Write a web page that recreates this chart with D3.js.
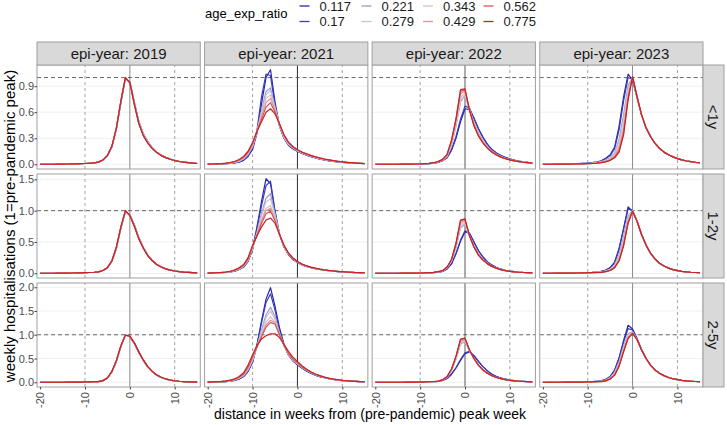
<!DOCTYPE html>
<html>
<head>
<meta charset="utf-8">
<script src="https://cdn.jsdelivr.net/npm/d3@7"></script>
<style>
body { margin: 0; background: #fff; }
svg { font-family: "Liberation Sans", Arial, sans-serif; }
</style>
</head>
<body>
<svg width="727" height="425"></svg>
<script>
// weeks relative to pre-pandemic peak
var weeks = [-20,-19,-18,-17,-16,-15,-14,-13,-12,-11,-10,-9,-8,-7,-6,-5,-4,-3,-2,-1,0,1,2,3,4,5,6,7,8,9,10,11,12,13,14,15];
var ratios = ["0.117","0.17","0.221","0.279","0.343","0.429","0.562","0.775"];
var years = ["2019","2021","2022","2023"];
var ages = ["<1y","1-2y","2-5y"];
var yTicks = [[0,0.3,0.6,0.9],[0,0.5,1,1.5],[0,0.5,1,1.5,2]];
var xTicks = [-20,-10,0,10];

// ---- epi-year 2019 ----
var lt1_2019_a = [0,0,0,0,.001,.002,.003,.004,.005,.007, .009,.012,.016,.025,.05,.1,.2,.41,.71,.99, .95,.71,.49,.35,.26,.19,.14,.105,.08,.06, .044,.033,.024,.018,.013,.009];
var lt1_2019_b = [0,0,0,0,.001,.002,.003,.004,.005,.007, .009,.012,.016,.025,.05,.1,.21,.42,.73,1.0, .94,.69,.47,.33,.245,.18,.135,.1,.077,.058, .043,.032,.024,.018,.013,.009];
var y12_2019_a = [0,0,0,0,.001,.002,.003,.004,.005,.007, .009,.012,.016,.022,.045,.09,.19,.4,.72,.99, .93,.77,.57,.41,.29,.2,.14,.1,.07,.05, .036,.026,.019,.014,.01,.007];
var y12_2019_b = [0,0,0,0,.001,.002,.003,.004,.005,.007, .009,.012,.016,.022,.045,.09,.2,.42,.74,1.0, .92,.75,.55,.4,.28,.2,.14,.1,.07,.05, .036,.026,.019,.014,.01,.007];
var y25_2019_a = [0,0,0,0,.001,.001,.002,.003,.004,.005, .007,.009,.012,.015,.035,.09,.22,.44,.75,1.0, .96,.82,.63,.46,.32,.22,.15,.1,.068,.046, .031,.021,.015,.01,.007,.005];
var y25_2019_b = [0,0,0,0,.001,.001,.002,.003,.004,.005, .007,.009,.012,.015,.035,.09,.23,.46,.77,.99, .97,.83,.64,.47,.33,.23,.155,.105,.07,.047, .032,.022,.015,.01,.007,.005];
var lt1_2019 = [lt1_2019_a, lt1_2019_a, lt1_2019_a, lt1_2019_a, lt1_2019_b, lt1_2019_b, lt1_2019_b, lt1_2019_b];
var y12_2019 = [y12_2019_a, y12_2019_a, y12_2019_a, y12_2019_a, y12_2019_b, y12_2019_b, y12_2019_b, y12_2019_b];
var y25_2019 = [y25_2019_a, y25_2019_a, y25_2019_a, y25_2019_a, y25_2019_b, y25_2019_b, y25_2019_b, y25_2019_b];

// ---- epi-year 2021 ----
var lt1_2021 = [
  [0,.002,.003,.005,.007,.01,.015,.025,.045,.09, .17,.36,.7,1.0,1.09,.72,.44,.3,.22,.18, .15,.125,.105,.088,.073,.06,.049,.04,.033,.027, .022,.018,.014,.011,.009,.007],
  [0,.002,.003,.005,.008,.011,.017,.028,.05,.1, .19,.4,.78,1.04,1.02,.68,.44,.3,.22,.18, .15,.127,.107,.09,.075,.062,.05,.041,.034,.028, .023,.018,.014,.011,.009,.007],
  [.001,.002,.004,.006,.009,.013,.02,.033,.06,.11, .2,.38,.62,.84,.88,.66,.45,.31,.23,.19, .155,.13,.11,.093,.078,.064,.053,.043,.036,.03, .024,.019,.015,.012,.01,.008],
  [.001,.002,.004,.006,.009,.014,.022,.036,.065,.12, .21,.38,.6,.8,.85,.65,.45,.31,.23,.19, .157,.132,.112,.095,.08,.066,.054,.045,.037,.031, .025,.02,.016,.013,.01,.008],
  [.001,.003,.004,.007,.01,.015,.024,.04,.07,.125, .22,.38,.58,.76,.8,.63,.45,.32,.24,.195, .16,.135,.115,.097,.082,.068,.056,.046,.038,.032, .026,.021,.017,.013,.011,.008],
  [.002,.003,.005,.008,.011,.017,.027,.045,.076,.13, .23,.38,.55,.71,.76,.62,.46,.33,.245,.2, .162,.137,.117,.099,.084,.07,.058,.048,.04,.033, .027,.022,.017,.014,.011,.009],
  [.002,.003,.005,.008,.012,.019,.03,.05,.083,.14, .24,.38,.52,.66,.71,.6,.46,.335,.25,.2, .165,.14,.12,.1,.085,.072,.06,.05,.041,.034, .028,.022,.018,.014,.011,.009],
  [.002,.003,.005,.008,.013,.02,.032,.055,.09,.15, .25,.38,.49,.6,.64,.58,.47,.34,.255,.205, .168,.142,.122,.103,.087,.073,.061,.051,.042,.035, .028,.023,.018,.014,.011,.009]
];
var y12_2021 = [
  [.002,.003,.005,.008,.012,.02,.035,.06,.1,.19, .38,.75,1.15,1.51,1.43,.98,.62,.42,.3,.22, .17,.135,.11,.09,.074,.06,.049,.04,.033,.027, .022,.018,.014,.011,.009,.007],
  [.002,.003,.005,.008,.012,.02,.035,.06,.1,.19, .38,.72,1.08,1.4,1.47,1.0,.63,.42,.3,.22, .17,.135,.11,.09,.074,.06,.049,.04,.033,.027, .022,.018,.014,.011,.009,.007],
  [.002,.004,.006,.009,.014,.023,.04,.066,.11,.2, .39,.66,.96,1.2,1.27,.95,.63,.43,.31,.23, .175,.14,.113,.092,.076,.062,.051,.042,.034,.028, .023,.018,.014,.011,.009,.007],
  [.002,.004,.006,.009,.015,.025,.042,.07,.115,.21, .4,.64,.92,1.14,1.19,.93,.63,.43,.31,.23, .177,.14,.114,.093,.077,.063,.052,.042,.035,.029, .023,.019,.015,.012,.009,.007],
  [.003,.004,.007,.01,.016,.027,.045,.075,.12,.22, .41,.62,.86,1.04,1.08,.88,.62,.43,.31,.235, .18,.142,.116,.095,.078,.064,.053,.043,.035,.029, .024,.019,.015,.012,.009,.007],
  [.003,.005,.007,.011,.017,.028,.047,.078,.125,.225, .42,.61,.83,1.0,1.04,.86,.62,.44,.315,.237, .182,.144,.117,.096,.079,.065,.053,.044,.036,.03, .024,.019,.015,.012,.01,.007],
  [.003,.005,.008,.012,.018,.03,.05,.082,.13,.23, .43,.6,.8,.95,.99,.84,.62,.44,.32,.24, .184,.146,.118,.097,.08,.066,.054,.044,.036,.03, .024,.019,.015,.012,.01,.008],
  [.003,.005,.008,.013,.02,.032,.053,.087,.14,.25, .45,.6,.74,.85,.88,.8,.62,.45,.325,.245, .187,.148,.12,.098,.081,.067,.055,.045,.037,.03, .025,.02,.016,.012,.01,.008]
];
var y25_2021 = [
  [.002,.003,.005,.008,.013,.022,.04,.07,.12,.23, .42,.8,1.3,1.75,1.99,1.6,1.15,.8,.58,.45, .37,.3,.24,.19,.15,.12,.095,.075,.059,.046, .036,.028,.022,.017,.013,.01],
  [.002,.003,.005,.008,.013,.022,.04,.07,.12,.23, .42,.78,1.25,1.68,1.86,1.52,1.1,.78,.57,.45, .37,.3,.24,.19,.15,.12,.095,.075,.059,.046, .036,.028,.022,.017,.013,.01],
  [.003,.005,.008,.012,.018,.03,.05,.085,.14,.26, .46,.76,1.1,1.42,1.58,1.38,1.04,.77,.58,.46, .39,.315,.255,.2,.16,.127,.1,.08,.063,.049, .038,.03,.023,.018,.014,.011],
  [.003,.005,.008,.012,.019,.031,.052,.088,.145,.27, .47,.75,1.06,1.36,1.5,1.33,1.02,.77,.59,.47, .39,.318,.258,.205,.162,.13,.102,.081,.064,.05, .039,.03,.023,.018,.014,.011],
  [.004,.006,.009,.014,.021,.034,.056,.095,.155,.28, .49,.74,1.0,1.26,1.38,1.26,1.0,.77,.6,.48, .4,.322,.262,.21,.166,.132,.104,.083,.065,.051, .04,.031,.024,.018,.014,.011],
  [.004,.006,.009,.014,.022,.036,.059,.1,.165,.3, .51,.74,.98,1.2,1.31,1.25,1.0,.78,.6,.48, .4,.325,.265,.212,.168,.134,.106,.084,.066,.052, .04,.031,.024,.018,.014,.011],
  [.004,.006,.01,.015,.023,.038,.062,.105,.175,.32, .53,.75,.96,1.16,1.26,1.22,1.0,.78,.61,.49, .41,.328,.268,.215,.17,.136,.108,.085,.067,.053, .041,.032,.025,.019,.014,.011],
  [.005,.008,.012,.018,.028,.045,.07,.12,.2,.36, .58,.78,.91,.98,1.02,1.02,.94,.8,.65,.53, .44,.35,.28,.22,.175,.14,.11,.087,.068,.054, .042,.033,.025,.019,.015,.011]
];

// ---- epi-year 2022 ----
var lt1_2022 = [
  [0,0,0,0,0,0,0,.001,.001,.002, .003,.005,.008,.013,.022,.04,.075,.16,.3,.49, .64,.63,.53,.41,.31,.23,.17,.13,.1,.08, .062,.048,.037,.028,.022,.017],
  [0,0,0,0,0,0,0,.001,.001,.002, .003,.005,.008,.013,.022,.04,.078,.17,.32,.52, .67,.65,.53,.41,.31,.23,.17,.13,.1,.078, .06,.046,.036,.028,.021,.016],
  [0,0,0,0,0,0,.001,.001,.002,.003, .004,.006,.009,.014,.026,.046,.09,.22,.44,.72, .8,.64,.48,.36,.27,.2,.15,.115,.09,.07, .054,.042,.032,.025,.019,.015],
  [0,0,0,0,0,0,.001,.001,.002,.003, .004,.006,.009,.014,.026,.046,.092,.225,.45,.74, .8,.63,.47,.35,.265,.2,.15,.114,.088,.068, .053,.041,.032,.024,.019,.014],
  [0,0,0,0,0,0,.001,.001,.002,.003, .004,.006,.009,.015,.028,.05,.1,.24,.47,.77, .82,.63,.47,.35,.26,.195,.147,.112,.086,.067, .052,.04,.031,.024,.018,.014],
  [0,0,0,0,0,0,.001,.001,.002,.003, .004,.006,.01,.016,.03,.052,.105,.26,.5,.81, .85,.63,.46,.34,.255,.19,.144,.11,.085,.066, .051,.04,.031,.024,.018,.014],
  [0,0,0,0,0,0,.001,.001,.002,.003, .004,.007,.01,.017,.031,.054,.11,.27,.52,.84, .86,.63,.45,.33,.25,.187,.142,.108,.083,.065, .05,.039,.03,.023,.018,.014],
  [0,0,0,0,0,0,.001,.001,.002,.003, .004,.007,.011,.018,.032,.056,.115,.28,.53,.86, .87,.62,.44,.325,.245,.185,.14,.107,.082,.064, .05,.039,.03,.023,.018,.013]
];
var y12_2022 = [
  [0,0,0,0,0,0,0,.001,.001,.002, .003,.004,.007,.011,.018,.03,.07,.15,.31,.51, .66,.64,.5,.36,.26,.18,.13,.09,.065,.047, .034,.025,.018,.013,.01,.007],
  [0,0,0,0,0,0,0,.001,.001,.002, .003,.004,.007,.011,.018,.03,.07,.15,.32,.53, .68,.64,.5,.36,.26,.18,.13,.09,.065,.047, .034,.025,.018,.013,.01,.007],
  [0,0,0,0,0,0,.001,.001,.002,.002, .003,.005,.008,.013,.022,.036,.085,.19,.41,.72, .79,.6,.44,.31,.22,.16,.115,.082,.06,.043, .031,.023,.017,.012,.009,.007],
  [0,0,0,0,0,0,.001,.001,.002,.002, .003,.005,.008,.013,.022,.037,.088,.2,.43,.75, .8,.6,.43,.3,.22,.155,.112,.08,.058,.042, .03,.022,.016,.012,.009,.007],
  [0,0,0,0,0,0,.001,.001,.002,.002, .003,.005,.008,.013,.023,.038,.09,.21,.45,.78, .82,.6,.43,.3,.215,.153,.11,.079,.057,.041, .03,.022,.016,.012,.009,.007],
  [0,0,0,0,0,0,.001,.001,.002,.003, .004,.005,.008,.014,.024,.04,.095,.215,.46,.81, .84,.6,.42,.295,.212,.151,.11,.079,.057,.041, .03,.022,.016,.012,.009,.007],
  [0,0,0,0,0,0,.001,.001,.002,.003, .004,.005,.009,.014,.025,.04,.1,.22,.48,.84, .86,.6,.42,.29,.21,.15,.11,.08,.058,.042, .03,.022,.016,.012,.009,.007],
  [0,0,0,0,0,0,.001,.001,.002,.003, .004,.006,.009,.015,.025,.041,.1,.22,.48,.85, .87,.6,.42,.29,.21,.15,.11,.08,.058,.042, .03,.022,.016,.012,.009,.007]
];
var y25_2022 = [
  [0,0,0,0,0,0,.001,.001,.002,.003, .004,.006,.009,.013,.02,.04,.08,.17,.3,.46, .6,.64,.56,.44,.33,.24,.17,.12,.09,.065, .048,.035,.026,.019,.014,.01],
  [0,0,0,0,0,0,.001,.001,.002,.003, .004,.006,.009,.013,.02,.04,.08,.17,.31,.48, .62,.65,.56,.44,.33,.24,.17,.12,.09,.065, .048,.035,.026,.019,.014,.01],
  [0,0,0,0,0,.001,.001,.002,.002,.003, .005,.007,.01,.014,.02,.045,.1,.24,.49,.8, .86,.66,.49,.36,.26,.19,.14,.1,.075,.055, .04,.03,.022,.016,.012,.009],
  [0,0,0,0,0,.001,.001,.002,.002,.003, .005,.007,.01,.014,.02,.046,.105,.25,.5,.82, .87,.67,.49,.36,.26,.19,.14,.1,.075,.055, .04,.03,.022,.016,.012,.009],
  [0,0,0,0,0,.001,.001,.002,.002,.003, .005,.007,.01,.015,.021,.048,.11,.26,.52,.85, .89,.67,.49,.36,.26,.19,.14,.1,.075,.055, .04,.03,.022,.016,.012,.009],
  [0,0,0,0,0,.001,.001,.002,.003,.004, .005,.007,.011,.015,.022,.05,.115,.27,.53,.87, .9,.68,.5,.36,.26,.19,.14,.1,.075,.055, .04,.03,.022,.016,.012,.009],
  [0,0,0,0,0,.001,.001,.002,.003,.004, .005,.008,.011,.016,.023,.05,.12,.28,.55,.9, .92,.68,.5,.36,.26,.19,.14,.1,.075,.055, .04,.03,.022,.016,.012,.009],
  [0,0,0,0,0,.001,.001,.002,.003,.004, .005,.008,.011,.016,.023,.05,.12,.28,.55,.91, .93,.68,.5,.36,.26,.19,.14,.1,.075,.055, .04,.03,.022,.016,.012,.009]
];

// ---- epi-year 2023 ----
var lt1_2023 = [
  [.001,.001,.002,.002,.003,.004,.005,.006,.008,.01, .013,.018,.025,.04,.07,.11,.2,.44,.78,1.04, .97,.77,.57,.42,.32,.24,.185,.14,.11,.085, .065,.05,.038,.03,.023,.018],
  [.001,.001,.002,.002,.003,.004,.005,.006,.008,.01, .013,.018,.024,.038,.065,.1,.18,.4,.73,1.0, .98,.77,.57,.42,.32,.24,.185,.14,.11,.085, .065,.05,.038,.03,.023,.018],
  [0,.001,.001,.002,.002,.003,.004,.005,.006,.008, .01,.014,.02,.03,.048,.075,.13,.29,.57,.91, 1.0,.78,.57,.42,.32,.24,.185,.14,.11,.085, .065,.05,.038,.03,.023,.018],
  [0,.001,.001,.002,.002,.003,.004,.005,.006,.008, .01,.013,.019,.028,.044,.068,.12,.26,.52,.87, 1.0,.78,.57,.42,.32,.24,.185,.14,.11,.085, .065,.05,.038,.03,.023,.018],
  [0,0,.001,.001,.002,.002,.003,.004,.005,.007, .009,.012,.017,.025,.038,.06,.1,.22,.46,.83, 1.0,.78,.57,.42,.32,.24,.185,.14,.11,.085, .065,.05,.038,.03,.023,.018],
  [0,0,.001,.001,.002,.002,.003,.004,.005,.006, .008,.011,.015,.022,.034,.054,.09,.19,.41,.79, 1.01,.78,.57,.42,.32,.24,.185,.14,.11,.085, .065,.05,.038,.03,.023,.018],
  [0,0,.001,.001,.002,.002,.003,.004,.005,.006, .008,.01,.014,.02,.03,.048,.08,.16,.36,.76, 1.01,.78,.57,.42,.32,.24,.185,.14,.11,.085, .065,.05,.038,.03,.023,.018],
  [0,0,0,.001,.001,.002,.002,.003,.004,.005, .007,.009,.012,.018,.027,.043,.075,.14,.34,.74, 1.01,.78,.57,.42,.32,.24,.185,.14,.11,.085, .065,.05,.038,.03,.023,.018]
];
var y12_2023 = [
  [.001,.001,.002,.002,.003,.004,.005,.006,.008,.01, .012,.015,.02,.03,.05,.09,.18,.4,.72,1.06, .99,.83,.62,.45,.32,.23,.16,.115,.082,.058, .042,.03,.022,.016,.012,.009],
  [.001,.001,.002,.002,.003,.004,.005,.006,.008,.01, .012,.015,.02,.029,.048,.085,.17,.38,.7,1.03, 1.0,.83,.62,.45,.32,.23,.16,.115,.082,.058, .042,.03,.022,.016,.012,.009],
  [0,.001,.001,.002,.002,.003,.004,.005,.006,.008, .01,.012,.016,.023,.038,.068,.13,.3,.58,.92, 1.0,.83,.62,.45,.32,.23,.16,.115,.082,.058, .042,.03,.022,.016,.012,.009],
  [0,.001,.001,.002,.002,.003,.004,.005,.006,.008, .01,.012,.016,.022,.036,.064,.12,.28,.55,.89, 1.0,.83,.62,.45,.32,.23,.16,.115,.082,.058, .042,.03,.022,.016,.012,.009],
  [0,0,.001,.001,.002,.002,.003,.004,.005,.007, .008,.01,.014,.02,.032,.056,.11,.25,.5,.86, 1.0,.83,.62,.45,.32,.23,.16,.115,.082,.058, .042,.03,.022,.016,.012,.009],
  [0,0,.001,.001,.002,.002,.003,.004,.005,.006, .008,.01,.013,.018,.029,.05,.1,.22,.47,.83, .99,.83,.62,.45,.32,.23,.16,.115,.082,.058, .042,.03,.022,.016,.012,.009],
  [0,0,.001,.001,.002,.002,.003,.004,.005,.006, .007,.009,.012,.016,.026,.046,.09,.2,.45,.81, .99,.83,.62,.45,.32,.23,.16,.115,.082,.058, .042,.03,.022,.016,.012,.009],
  [0,0,0,.001,.001,.002,.002,.003,.004,.005, .007,.009,.011,.015,.025,.045,.09,.2,.44,.8, .99,.83,.62,.45,.32,.23,.16,.115,.082,.058, .042,.03,.022,.016,.012,.009]
];
var y25_2023 = [
  [.001,.001,.002,.002,.003,.004,.005,.006,.008,.01, .012,.016,.022,.03,.06,.12,.26,.52,.88,1.2, 1.12,.92,.69,.5,.36,.26,.19,.14,.1,.075, .055,.04,.03,.022,.016,.012],
  [.001,.001,.002,.002,.003,.004,.005,.006,.008,.01, .012,.016,.022,.03,.058,.115,.25,.5,.85,1.13, 1.1,.91,.69,.5,.36,.26,.19,.14,.1,.075, .055,.04,.03,.022,.016,.012],
  [0,.001,.001,.002,.002,.003,.004,.005,.006,.008, .01,.013,.018,.025,.045,.095,.21,.43,.76,1.02, 1.06,.9,.68,.5,.36,.26,.19,.14,.1,.075, .055,.04,.03,.022,.016,.012],
  [0,.001,.001,.002,.002,.003,.004,.005,.006,.008, .01,.013,.017,.024,.042,.09,.2,.41,.73,1.0, 1.05,.9,.68,.5,.36,.26,.19,.14,.1,.075, .055,.04,.03,.022,.016,.012],
  [0,0,.001,.001,.002,.002,.003,.004,.005,.007, .009,.012,.015,.021,.037,.08,.18,.38,.7,.97, 1.04,.9,.68,.5,.36,.26,.19,.14,.1,.075, .055,.04,.03,.022,.016,.012],
  [0,0,.001,.001,.002,.002,.003,.004,.005,.006, .008,.011,.014,.019,.034,.075,.16,.36,.67,.95, 1.04,.9,.68,.5,.36,.26,.19,.14,.1,.075, .055,.04,.03,.022,.016,.012],
  [0,0,.001,.001,.002,.002,.003,.004,.005,.006, .007,.01,.013,.017,.03,.07,.15,.35,.65,.93, 1.03,.9,.68,.5,.36,.26,.19,.14,.1,.075, .055,.04,.03,.022,.016,.012],
  [0,0,0,.001,.001,.002,.002,.003,.004,.005, .007,.009,.012,.015,.03,.07,.15,.34,.64,.92, 1.03,.9,.68,.5,.36,.26,.19,.14,.1,.075, .055,.04,.03,.022,.016,.012]
];

// rows = age groups, columns = epi-years
var panels = [
  [lt1_2019, lt1_2021, lt1_2022, lt1_2023],
  [y12_2019, y12_2021, y12_2022, y12_2023],
  [y25_2019, y25_2021, y25_2022, y25_2023]
];

var colors = ["#2626ae", "#3c3cba", "#9a9acc", "#c4c4d6", "#dcc0c0", "#df9696", "#d45858", "#c82424"];
var zeroLine = ["#8a8a8a", "#2c2c2c", "#5a5a5a", "#8a8a8a"];

var svg = d3.select("svg");
var plotLeft = 37, plotRight = 703, plotTop = 65, plotBottom = 387, gapX = 4.3, gapY = 5;
var pw = (plotRight - plotLeft - 3 * gapX) / 4,
    ph = (plotBottom - plotTop - 2 * gapY) / 3;

var xs = years.map(function(d, i) {
  var x0 = plotLeft + i * (pw + gapX);
  return d3.scaleLinear().domain([-20.7, 15.7]).range([x0, x0 + pw]);
});
var ys = ages.map(function(d, j) {
  var all = panels[j].flat(2);
  var lo = d3.min(all), hi = d3.max(all), pad = (hi - lo) * 0.05;
  var y0 = plotTop + j * (ph + gapY);
  return d3.scaleLinear().domain([lo - pad, hi + pad]).range([y0 + ph, y0]);
});

var defs = svg.append("defs");

ages.forEach(function(age, j) {
  var y = ys[j];
  years.forEach(function(year, i) {
    var x = xs[i];
    var g = svg.append("g");
    var id = "clip" + j + "_" + i;
    defs.append("clipPath").attr("id", id).append("rect")
      .attr("x", x.range()[0]).attr("y", y.range()[1])
      .attr("width", pw).attr("height", ph);

    g.append("rect")
      .attr("x", x.range()[0]).attr("y", y.range()[1])
      .attr("width", pw).attr("height", ph)
      .attr("fill", "#fff");

    // faint horizontal grid
    g.selectAll(".grid").data(yTicks[j]).enter().append("line")
      .attr("x1", x.range()[0]).attr("x2", x.range()[1])
      .attr("y1", function(d) { return y(d); })
      .attr("y2", function(d) { return y(d); })
      .attr("stroke", "#ececec").attr("stroke-width", 0.8);

    var inner = g.append("g").attr("clip-path", "url(#" + id + ")");

    inner.selectAll(".vd").data([-10, 10]).enter().append("line")
      .attr("x1", function(d) { return x(d); }).attr("x2", function(d) { return x(d); })
      .attr("y1", y.range()[0]).attr("y2", y.range()[1])
      .attr("stroke", "#8c8c8c").attr("stroke-width", 0.8)
      .attr("stroke-dasharray", "3,3");
    inner.append("line")
      .attr("x1", x(0)).attr("x2", x(0))
      .attr("y1", y.range()[0]).attr("y2", y.range()[1])
      .attr("stroke", zeroLine[i]).attr("stroke-width", 1);
    inner.append("line")
      .attr("x1", x.range()[0]).attr("x2", x.range()[1])
      .attr("y1", y(1)).attr("y2", y(1))
      .attr("stroke", "#444").attr("stroke-width", 0.8)
      .attr("stroke-dasharray", "4,3");

    var line = d3.line()
      .x(function(d, k) { return x(weeks[k]); })
      .y(function(d) { return y(d); });

    inner.selectAll(".series").data(panels[j][i]).enter().append("path")
      .attr("d", line)
      .attr("fill", "none")
      .attr("stroke", function(d, k) { return colors[k]; })
      .attr("stroke-width", 1.2)
      .attr("stroke-linejoin", "round");

    g.append("rect")
      .attr("x", x.range()[0]).attr("y", y.range()[1])
      .attr("width", pw).attr("height", ph)
      .attr("fill", "none").attr("stroke", "#a0a0a0").attr("stroke-width", 1);

    // y axis on first column
    if (i == 0) {
      var ax = svg.append("g").attr("transform", "translate(" + plotLeft + ",0)")
        .call(d3.axisLeft(y).tickValues(yTicks[j]).tickSize(2.5).tickPadding(0.5)
          .tickFormat(d3.format(".1f")));
      ax.select(".domain").remove();
      ax.selectAll("line").attr("stroke", "#444");
      ax.selectAll("text").attr("fill", "#4d4d4d").attr("font-size", 11)
        .attr("font-family", "Liberation Sans, Arial, sans-serif");
    }
    // x axis on last row
    if (j == 2) {
      var bx = svg.append("g").attr("transform", "translate(0," + plotBottom + ")")
        .call(d3.axisBottom(x).tickValues(xTicks).tickSize(2.5)
          .tickFormat(function(d) { return String(d); }));
      bx.select(".domain").remove();
      bx.selectAll("line").attr("stroke", "#444");
      bx.selectAll("text")
        .attr("fill", "#4d4d4d").attr("font-size", 11)
        .attr("font-family", "Liberation Sans, Arial, sans-serif")
        .attr("text-anchor", "end")
        .attr("transform", "rotate(-90)")
        .attr("x", -5).attr("y", 0).attr("dy", "0.35em");
    }
  });
});

// top strips
years.forEach(function(year, i) {
  var x0 = xs[i].range()[0];
  svg.append("rect").attr("x", x0).attr("y", 42).attr("width", pw).attr("height", plotTop - 42)
    .attr("fill", "#d9d9d9").attr("stroke", "#a0a0a0").attr("stroke-width", 1);
  svg.append("text").attr("x", x0 + pw / 2).attr("y", 53.5).attr("dy", "0.36em")
    .attr("text-anchor", "middle").attr("font-size", 15).attr("fill", "#1a1a1a")
    .text("epi-year: " + year);
});

// right strips
ages.forEach(function(age, j) {
  var r = ys[j].range();
  svg.append("rect").attr("x", plotRight).attr("y", r[1]).attr("width", 21).attr("height", ph)
    .attr("fill", "#d9d9d9").attr("stroke", "#a0a0a0").attr("stroke-width", 1);
  svg.append("text")
    .attr("transform", "translate(" + (plotRight + 10.5) + "," + (r[1] + ph / 2) + ") rotate(90)")
    .attr("dy", "0.36em").attr("text-anchor", "middle")
    .attr("font-size", 15).attr("fill", "#1a1a1a").text(age);
});

// axis titles
svg.append("text").attr("x", (plotLeft + plotRight) / 2).attr("y", 418.5)
  .attr("text-anchor", "middle").attr("font-size", 14).attr("fill", "#000")
  .text("distance in weeks from (pre-pandemic) peak week");
svg.append("text")
  .attr("transform", "translate(14.5," + (plotTop + plotBottom) / 2 + ") rotate(-90)")
  .attr("text-anchor", "middle").attr("font-size", 15).attr("fill", "#000")
  .text("weekly hospitalisations (1=pre-pandemic peak)");

// legend
var leg = svg.append("g");
leg.append("text").attr("x", 205).attr("y", 18).attr("font-size", 13).attr("fill", "#000")
  .text("age_exp_ratio");
var keyX = [299.5, 361.5, 423, 483.5];
var keyY = [6, 21.5];
ratios.forEach(function(r, k) {
  var c = Math.floor(k / 2), row = k % 2;
  leg.append("line")
    .attr("x1", keyX[c]).attr("x2", keyX[c] + 10)
    .attr("y1", keyY[row]).attr("y2", keyY[row])
    .attr("stroke", colors[k]).attr("stroke-width", 1.3);
  leg.append("text").attr("x", keyX[c] + 20).attr("y", keyY[row]).attr("dy", "0.36em")
    .attr("font-size", 13).attr("fill", "#1a1a1a").text(r);
});
</script>
</body>
</html>
